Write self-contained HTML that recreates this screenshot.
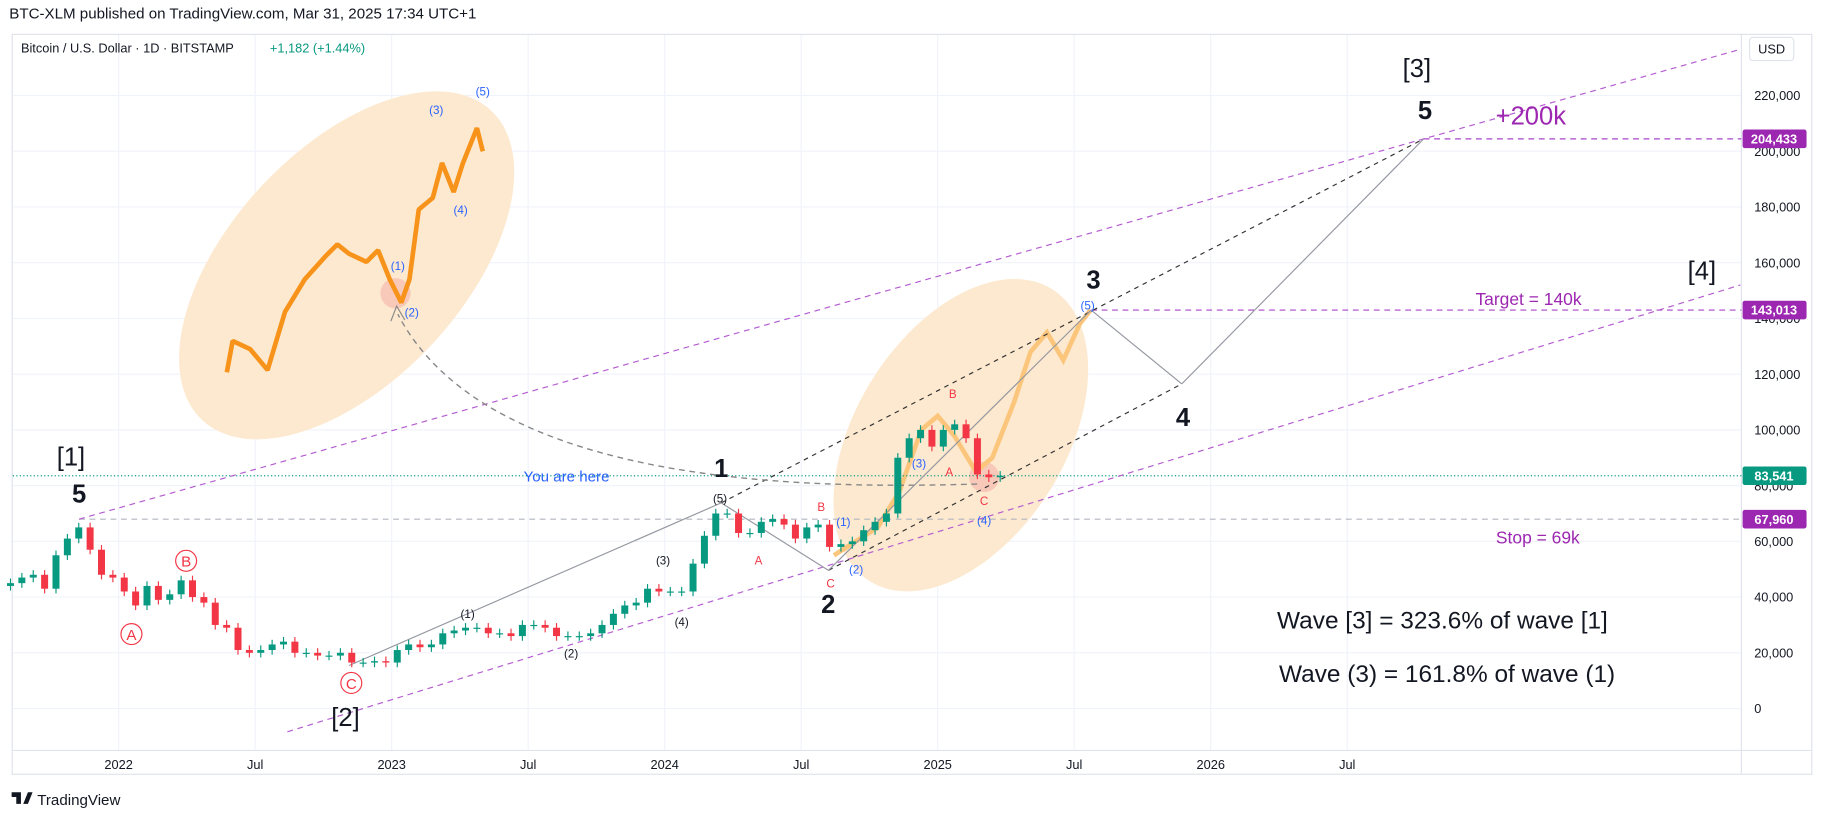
<!DOCTYPE html>
<html><head><meta charset="utf-8"><style>
body{margin:0;width:1824px;height:818px;background:#fff;font-family:"Liberation Sans",sans-serif;overflow:hidden}
svg{position:absolute;left:0;top:0}
</style></head><body>
<svg id="c" width="1824" height="818" viewBox="0 0 1568 703" xmlns="http://www.w3.org/2000/svg"></svg>
<script>
// ---- data ----
const startYear = 2021.583; // Aug 2021, semi-monthly candles
const closes = [45000,47000,48000,43000,55000,61000,65000,57000,48000,47000,42000,37000,44000,39000,41000,46000,40000,38000,30000,29000,21000,20000,21000,23000,24000,20000,20000,19000,19000,20000,16500,16500,17000,16500,21000,23000,22000,23000,27000,28000,29000,29000,27000,27000,26000,30000,30000,29000,26000,26000,26000,27000,30000,34000,37000,38000,43000,42000,42000,42000,52000,62000,70000,70000,63000,63000,67000,68000,66000,61000,65000,66000,58000,59000,60000,64000,67000,70000,90000,97000,100000,94000,100000,102000,97000,84000,83000,83541];
const priceTicks = [0,20000,40000,60000,80000,100000,120000,140000,160000,180000,200000,220000];
const timeTickYears = [2022,2022.5,2023,2023.5,2024,2024.5,2025,2025.5,2026,2026.5];
const timeTickLabels = ["2022","Jul","2023","Jul","2024","Jul","2025","Jul","2026","Jul"];
const insetPath = [[195,320],[200,293],[215,300],[230,318],[245,268],[262,240],[280,220],[290,210],[300,218],[315,225],[325,215],[335,240],[345,260],[352,240],[360,180],[372,170],[380,140],[390,165],[398,140],[410,110],[415,130]];
const ghostT = [2024.62,2024.7,2024.78,2024.86,2024.94,2025.0,2025.06,2025.14,2025.2,2025.28,2025.34,2025.4,2025.46,2025.52,2025.56];
const ghostP = [55000,60000,65000,78000,100000,105000,98000,85000,90000,110000,128000,135000,125000,138000,143013];
const waveT = [2022.844,2024.207,2024.6,2025.562,2025.894,2026.78];
const waveP = [15450,73800,49600,143013,116500,204433];
// ---- axes ----
const X = t => 102 + (t-2022)*234.7;
const Y = p => 609 - p*0.0023955;
const svg = document.getElementById('c');
const NS='http://www.w3.org/2000/svg';
function el(tag, attrs, parent){const e=document.createElementNS(NS,tag);for(const k in attrs)e.setAttribute(k,attrs[k]);(parent||svg).appendChild(e);return e;}
function txt(x,y,s,attrs){const e=el('text',Object.assign({x:x,y:y},attrs||{}));e.textContent=s;return e;}

const frame = el('rect',{x:10.5,y:29.5,width:1547,height:636,fill:'none',stroke:'#e0e3eb'});


priceTicks.forEach(p=>{
  const g=el('line',{x1:11,x2:1497,y1:Y(p),y2:Y(p),stroke:'#f0f3fa'});
  
  
  const t=txt(1508,Y(p)+4,p.toLocaleString('en-US'),{'font-size':11,fill:'#131722'});
  
  
});
timeTickYears.forEach((ty,i)=>{
  const g=el('line',{x1:X(ty),x2:X(ty),y1:30,y2:645,stroke:'#f0f3fa'});
  
  
  const t=txt(X(ty),661,timeTickLabels[i],{'font-size':11,fill:'#131722','text-anchor':'middle'});
  
  
});
el('line',{x1:1497,x2:1497,y1:30,y2:665,stroke:'#e0e3eb'});
el('line',{x1:11,x2:1557,y1:645,y2:645,stroke:'#e0e3eb'});

const e1=el('ellipse',{cx:298,cy:228,rx:182,ry:100,fill:'#fde9cf',transform:'rotate(-47 298 228)'});


const e2=el('ellipse',{cx:826,cy:374,rx:148,ry:90,fill:'#fde9cf',transform:'rotate(-58 826 374)'});


el('circle',{cx:340,cy:252,r:13,fill:'#f8c9b8'});
el('circle',{cx:846,cy:410,r:13,fill:'#f8c9b8'});

const ip=el('polyline',{points:insetPath.map(p=>p.join(',')).join(' '),fill:'none',stroke:'#f7931a','stroke-width':4,'stroke-linejoin':'bevel'});


const gp=el('polyline',{points:ghostT.map((t,i)=>X(t)+','+Y(ghostP[i])).join(' '),fill:'none',stroke:'#fbc67c','stroke-width':4});



function hline(p,x1,x2,color,dash,name){const l=el('line',{x1:x1,x2:x2,y1:Y(p),y2:Y(p),stroke:color,'stroke-dasharray':dash});}
hline(67960,68,1497,'#b2b5be','5,4','stop-level-line');
hline(143013,X(waveT[3]),1497,'#a846c8','5,4','target-level-line');
hline(204433,X(waveT[5]),1497,'#a846c8','5,4','final-target-line');
hline(83541,11,1497,'#089981','1,2','current-price-line');

function seg(t1,p1,t2,p2,color,dash,name){const l=el('line',{x1:X(t1),y1:Y(p1),x2:X(t2),y2:Y(p2),stroke:color,'stroke-dasharray':dash||'none'});}
// upper channel: through [1] peak and final target, extended to right edge
const chT0=2021.855, chP0=67960, chTEnd=2027.94;
const chSlope=(waveP[5]-chP0)/(waveT[5]-chT0);
seg(chT0,chP0,chTEnd,chP0+chSlope*(chTEnd-chT0),'#b45bd0','5,4','upper-channel');
seg(2022.618,-8350,2027.94,152000,'#b45bd0','5,4','lower-channel');
seg(waveT[1],waveP[1],waveT[5],waveP[5],'#333','4,4','upper-wave-channel');
seg(waveT[2],waveP[2],waveT[4],waveP[4],'#333','4,4','lower-wave-channel');
for(let i=0;i<waveT.length-1;i++){seg(waveT[i],waveP[i],waveT[i+1],waveP[i+1],'#9598a1',null,'wave-path-segment');}

const ca=el('path',{d:'M840,416 C700,420 420,420 342,270',fill:'none',stroke:'#888','stroke-dasharray':'5,4','stroke-width':1.2});


el('path',{d:'M336,276 L341,263 L348,275',fill:'none',stroke:'#888'});

let prev = 44000;
closes.forEach((c,i)=>{
  const t = startYear + i/24 + 1/48;
  const x = X(t);
  const o = prev; prev = c;
  const up = c>=o;
  const col = up?'#089981':'#f23645';
  const hi=Math.max(o,c), lo=Math.min(o,c);
  const w=el('line',{x1:x,x2:x,y1:Y(hi)-4,y2:Y(lo)+4,stroke:col});
  
  
  const b=el('rect',{x:x-3,y:Y(hi),width:6,height:Math.max(1,Y(lo)-Y(hi)),fill:col});
  
  
});

function plabel(p,bg,name){const g=el('g',{});el('rect',{x:1498,y:Y(p)-8,width:55,height:16,fill:bg,rx:2},g);const t=el('text',{x:1525,y:Y(p)+4,'font-size':11,fill:'#fff','text-anchor':'middle','font-weight':'bold'},g);t.textContent=p.toLocaleString('en-US');}
plabel(204433,'#9c27b0','final-target-price-label');
plabel(143013,'#9c27b0','target-price-label');
plabel(83541,'#089981','current-price-label');
plabel(67960,'#9c27b0','stop-price-label');

function L(x,y,s,size,color,name,extra){const t=txt(x,y,s,Object.assign({'font-size':size,fill:color,'text-anchor':'middle'},extra||{}));}
L(1218,66,'[3]',22,'#131722','wave-3-degree-label');
L(1225,102,'5',22,'#131722','wave-5-label',{'font-weight':'bold'});
L(1316,107,'+200k',22,'#9c27b0','gain-label');
L(1463,240,'[4]',22,'#131722','wave-4-degree-label');
L(1314,262,'Target = 140k',15,'#9c27b0','target-label');
L(1322,467,'Stop = 69k',15,'#9c27b0','stop-label');
L(940,248,'3',22,'#131722','wave-3-label',{'font-weight':'bold'});
L(1017,366,'4',22,'#131722','wave-4-label',{'font-weight':'bold'});
L(620,410,'1',22,'#131722','wave-1-label',{'font-weight':'bold'});
L(712,527,'2',22,'#131722','wave-2-label',{'font-weight':'bold'});
L(61,400,'[1]',22,'#131722','wave-1-degree-label');
L(68,432,'5',22,'#131722','peak-5-label',{'font-weight':'bold'});
L(297,624,'[2]',22,'#131722','wave-2-degree-label');
L(487,414,'You are here',13,'#2962ff','you-are-here-label');
L(1240,540,'Wave [3] = 323.6% of wave [1]',21,'#131722','wave3-ratio-note');
L(1244,586,'Wave (3) = 161.8% of wave (1)',21,'#131722','wave3-sub-ratio-note');
[[402,531,'(1)'],[491,565,'(2)'],[570,485,'(3)'],[586,538,'(4)'],[619,432,'(5)']].forEach(a=>L(a[0],a[1],a[2],10,'#131722','minor-wave-label'));
[[725,452,'(1)'],[736,493,'(2)'],[790,402,'(3)'],[846,451,'(4)'],[935,266,'(5)'],[415,82,'(5)'],[375,98,'(3)'],[342,232,'(1)'],[354,272,'(2)'],[396,184,'(4)']].forEach(a=>L(a[0],a[1],a[2],10,'#2962ff','sub-wave-label'));
[[706,439,'B'],[652,485,'A'],[714,505,'C'],[819,342,'B'],[816,409,'A'],[846,434,'C']].forEach(a=>L(a[0],a[1],a[2],10,'#f23645','correction-label'));
[[113,545,'A'],[160,482,'B'],[302,587,'C']].forEach(a=>{const c=el('circle',{cx:a[0],cy:a[1],r:9,fill:'none',stroke:'#f23645'});L(a[0],a[1]+5,a[2],13,'#f23645','circled-wave-label');});

const h=txt(8,16,'BTC-XLM published on TradingView.com, Mar 31, 2025 17:34 UTC+1',{'font-size':13,fill:'#131722'});

const s=txt(18,45,'Bitcoin / U.S. Dollar · 1D · BITSTAMP',{'font-size':11,fill:'#131722'});

const ch=txt(232,45,'+1,182 (+1.44%)',{'font-size':11,fill:'#089981'});

const ub=el('rect',{x:1504,y:32,width:38,height:20,rx:3,fill:'#fff',stroke:'#e0e3eb'});

L(1523,46,'USD',11,'#131722','currency-label');
const lg=txt(32,692,'TradingView',{'font-size':13,fill:'#131722'});

el('path',{d:'M10,681 h8 v10 h-4 v-6 h-4z M20,691 l4,-10 h4 l-4,10z',fill:'#131722'});
</script>
</body></html>
